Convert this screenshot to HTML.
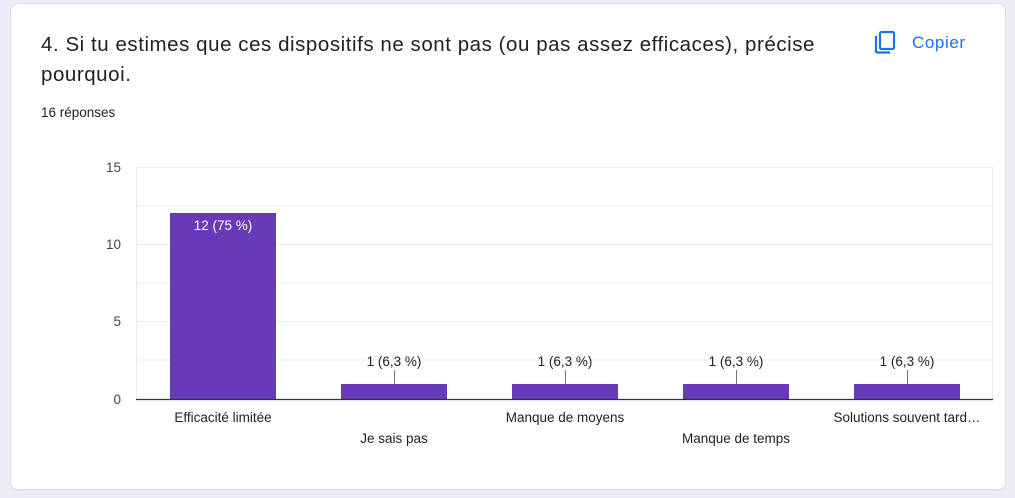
<!DOCTYPE html>
<html><head><meta charset="utf-8"><style>
html,body{margin:0;padding:0;width:1015px;height:498px;background:#f0ebf8;overflow:hidden;font-family:"Liberation Sans",Arial,sans-serif;}
.card{position:absolute;left:10px;top:3px;width:996px;height:487px;background:#fff;border-radius:8px;border:1px solid #dadce0;box-sizing:border-box;}
.t{position:absolute;left:30px;top:26px;font-size:20.5px;letter-spacing:0.55px;line-height:30px;color:#202124;width:800px;}
.r{position:absolute;left:30px;top:101px;font-size:13.5px;color:#202124;}
.c{position:absolute;left:863px;top:26px;font-size:17px;letter-spacing:0.6px;color:#1a73e8;}
</style></head><body>
<div class="card">
<div class="t">4. Si tu estimes que ces dispositifs ne sont pas (ou pas assez efficaces), précise pourquoi.</div>
<div class="r">16 réponses</div>
<div class="c"><svg width="22" height="24" viewBox="0 0 22 24" style="vertical-align:-6px;margin-right:16px"><rect x="6" y="2" width="14" height="17" rx="1.5" fill="none" stroke="#1a73e8" stroke-width="2.2"/><path d="M2 6v15a1.5 1.5 0 0 0 1.5 1.5H16" fill="none" stroke="#1a73e8" stroke-width="2.2"/></svg>Copier</div>
</div>
<svg width="1015" height="498" style="position:absolute;left:0;top:0" font-family="Liberation Sans, Arial, sans-serif">
<g stroke="#ebebeb" stroke-width="1">
<line x1="136" x2="993" y1="167.5" y2="167.5"/><line x1="136" x2="993" y1="206" y2="206"/>
<line x1="136" x2="993" y1="244.5" y2="244.5"/><line x1="136" x2="993" y1="283" y2="283"/>
<line x1="136" x2="993" y1="321.5" y2="321.5"/><line x1="136" x2="993" y1="360" y2="360"/>
<line x1="136.5" x2="136.5" y1="167" y2="399"/><line x1="992.5" x2="992.5" y1="167" y2="399"/>
</g>
<g font-size="13.5" fill="#444" text-anchor="end">
<text x="121" y="172">15</text><text x="121" y="249">10</text><text x="121" y="326">5</text><text x="121" y="404">0</text>
</g>
<g fill="#673ab7">
<rect x="170" y="213" width="106" height="186"/>
<rect x="341" y="384" width="106" height="15"/>
<rect x="512" y="384" width="106" height="15"/>
<rect x="683" y="384" width="106" height="15"/>
<rect x="854" y="384" width="106" height="15"/>
</g>
<line x1="136" x2="993" y1="399.5" y2="399.5" stroke="#333" stroke-width="1.2"/>
<g stroke="#777" stroke-width="1"><line x1="394.5" x2="394.5" y1="370" y2="384"/><line x1="565.5" x2="565.5" y1="370" y2="384"/><line x1="736.5" x2="736.5" y1="370" y2="384"/><line x1="907.5" x2="907.5" y1="370" y2="384"/></g>
<g font-size="13.5" text-anchor="middle" fill="#222">
<text x="223" y="230" fill="#fff">12 (75 %)</text>
<text x="394" y="366">1 (6,3 %)</text><text x="565" y="366">1 (6,3 %)</text><text x="736" y="366">1 (6,3 %)</text><text x="907" y="366">1 (6,3 %)</text>
<text x="223" y="422">Efficacité limitée</text>
<text x="394" y="443">Je sais pas</text>
<text x="565" y="422">Manque de moyens</text>
<text x="736" y="443">Manque de temps</text>
<text x="907" y="422">Solutions souvent tard…</text>
</g>
</svg>
</body></html>
